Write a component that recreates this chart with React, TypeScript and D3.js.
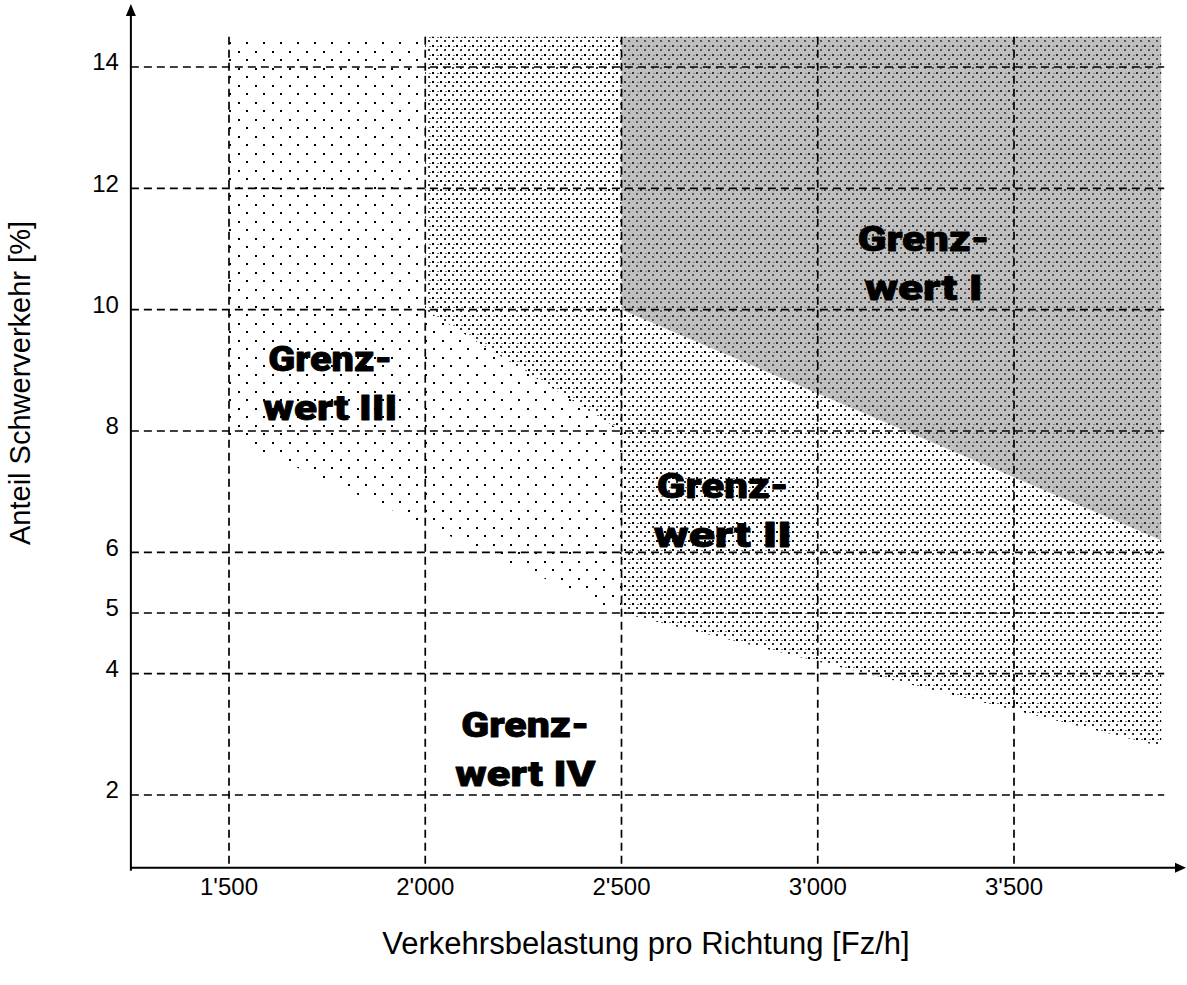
import * as d3 from 'd3';

// Achsen und Ticks
const xTicks = [1500, 2000, 2500, 3000, 3500];
const xTickLabels = ["1'500", "2'000", "2'500", "3'000", "3'500"];
const yTicks = [2, 4, 5, 6, 8, 10, 12, 14];

const X_MIN = 1250;
const X_MAX = 3875;
const Y_MIN = 0.8;
const Y_MAX = 14.5;

// Bereiche (Verkehrsbelastung, Anteil SV)
const zoneI: [number, number][] = [[2500, 14.5], [3875, 14.5], [3875, 6.2], [2500, 10]];
const zoneII: [number, number][] = [
  [2000, 14.5], [2500, 14.5], [2500, 10], [3875, 6.2], [3875, 2.8], [2500, 5], [2500, 8], [2000, 10],
];
const zoneIII: [number, number][] = [[1500, 14.5], [2000, 14.5], [2000, 10], [2500, 8], [2500, 5], [1500, 7.9]];

// Beschriftungen der Grenzwerte
const zoneLabels = [
  { x: 3270, y: 10.97, lines: ['Grenz-', 'wert I'], widths: [132, 118] },
  { x: 2758, y: 6.9, lines: ['Grenz-', 'wert II'], widths: [132, 138] },
  { x: 1758, y: 8.99, lines: ['Grenz-', 'wert III'], widths: [124, 134] },
  { x: 2255, y: 2.96, lines: ['Grenz-', 'wert IV'], widths: [128, 140] },
];

const W = 1187;
const H = 985;

export default function App() {
  const x = d3.scaleLinear().domain([1500, 3500]).range([229, 1014]);
  const y = d3.scaleLinear().domain([2, 14]).range([795, 67]);

  const x0 = x(X_MIN);
  const x1 = x(X_MAX);
  const y0 = y(Y_MIN);
  const y1 = y(Y_MAX);

  const line = d3.line<[number, number]>().x((d) => x(d[0])).y((d) => y(d[1]));
  const poly = (pts: [number, number][]) => line(pts) + 'Z';

  const font = '"Liberation Sans", Arial, sans-serif';
  const heavy = '"Arial Black", Roboto, Lato, "Liberation Sans", sans-serif';

  return (
    <svg width={W} height={H} style={{ position: 'absolute', left: 0, top: 0, background: '#fff' }}>
      <defs>
        <pattern id="sparse" patternUnits="userSpaceOnUse" width="17" height="17">
          <rect x="0" y="0" width="2" height="2" fill="#000" />
          <rect x="8" y="8" width="2" height="2" fill="#000" />
        </pattern>
        <pattern id="medium" patternUnits="userSpaceOnUse" width="8" height="9">
          <rect x="0" y="0" width="2" height="2" fill="#000" />
          <rect x="4" y="4" width="2" height="2" fill="#333" />
          <rect x="5" y="1" width="2" height="1" fill="#777" />
        </pattern>
        <pattern id="gray" patternUnits="userSpaceOnUse" width="8" height="9">
          <rect x="0" y="0" width="8" height="9" fill="#c0c0c0" />
          <rect x="0" y="0" width="2" height="2" fill="#333" />
          <rect x="4" y="4" width="2" height="2" fill="#555" />
          <rect x="5" y="1" width="2" height="1" fill="#888" />
        </pattern>
      </defs>

      {/* Flächen */}
      <path d={poly(zoneIII)} fill="url(#sparse)" />
      <path d={poly(zoneII)} fill="url(#medium)" />
      <path d={poly(zoneI)} fill="url(#gray)" />

      {/* Gitterlinien */}
      {yTicks.map((t) => (
        <line key={'h' + t} x1={x0} x2={x1 + 3} y1={y(t)} y2={y(t)}
          stroke="#000" strokeWidth={1.7} strokeDasharray="8,5" />
      ))}
      {xTicks.map((t) => (
        <line key={'v' + t} x1={x(t)} x2={x(t)} y1={y1} y2={y0}
          stroke="#000" strokeWidth={1.7} strokeDasharray="8,5" />
      ))}

      {/* Achsen mit Pfeilen */}
      <line x1={x0} x2={W - 9} y1={y0} y2={y0} stroke="#000" strokeWidth={2} />
      <path d={`M${W - 1},${y0} L${W - 12},${y0 - 5} L${W - 12},${y0 + 5} Z`} fill="#000" />
      <line x1={x0} x2={x0} y1={y0 + 3} y2={14} stroke="#000" strokeWidth={2} />
      <path d={`M${x0},4 L${x0 - 5},16 L${x0 + 5},16 Z`} fill="#000" />

      {/* Tick-Beschriftungen */}
      {yTicks.map((t) => (
        <text key={'yl' + t} x={x0 - 12} y={y(t) - 3} textAnchor="end" dominantBaseline="middle"
          fontFamily={font} fontSize={24} fill="#000">{t}</text>
      ))}
      {xTicks.map((t, i) => (
        <text key={'xl' + t} x={x(t)} y={y0 + 21} textAnchor="middle" dominantBaseline="middle"
          fontFamily={font} fontSize={24} fill="#000">{xTickLabels[i]}</text>
      ))}

      {/* Achsentitel */}
      <text x={646} y={946} textAnchor="middle" dominantBaseline="middle"
        fontFamily={font} fontSize={31} fill="#000">Verkehrsbelastung pro Richtung [Fz/h]</text>
      <text transform={`translate(22,${383}) rotate(-90)`} textAnchor="middle" dominantBaseline="middle"
        fontFamily={font} fontSize={29} fill="#000">Anteil Schwerverkehr [%]</text>

      {/* Grenzwert-Beschriftungen */}
      {zoneLabels.map((l, i) => (
        <g key={'zl' + i}>
          {l.lines.map((s, j) => (
            <text key={j} x={x(l.x)} y={y(l.y) + j * 49} textAnchor="middle"
              fontFamily={heavy} fontWeight={900} fontSize={35} fill="#000"
              stroke="#000" strokeWidth={0.8} strokeLinejoin="round"
              textLength={l.widths[j]} lengthAdjust="spacingAndGlyphs">{s}</text>
          ))}
        </g>
      ))}
    </svg>
  );
}
